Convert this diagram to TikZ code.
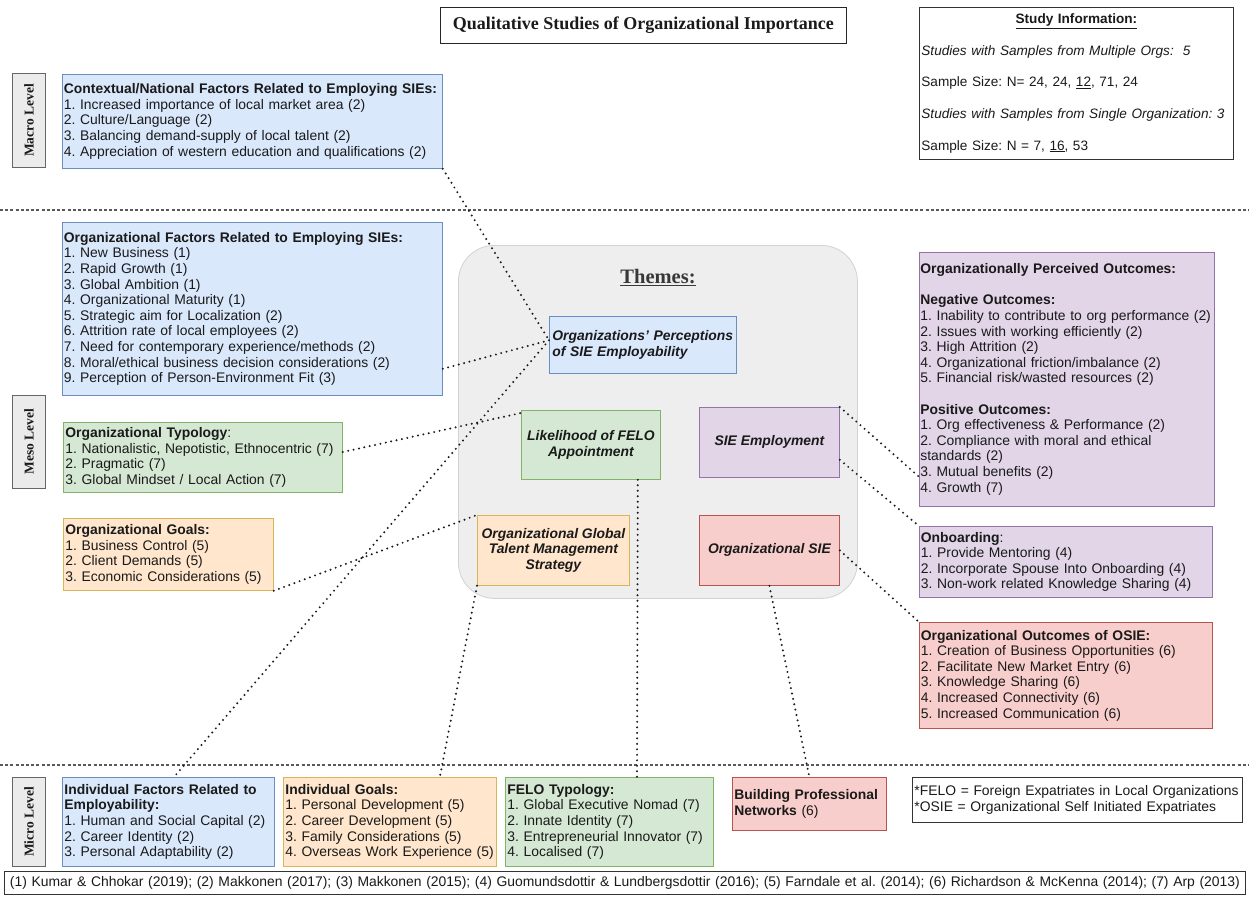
\documentclass[tikz,border=0pt]{standalone}
\usepackage{fontspec}
\setmainfont{Liberation Sans}
\newfontfamily\seriffam{Liberation Serif}
\usetikzlibrary{calc}
\frenchspacing

\definecolor{bluefill}{HTML}{DAE8FC}
\definecolor{bluedraw}{HTML}{6C8EBF}
\definecolor{greenfill}{HTML}{D5E8D4}
\definecolor{greendraw}{HTML}{82B366}
\definecolor{orangefill}{HTML}{FFE6CC}
\definecolor{orangedraw}{HTML}{D6B656}
\definecolor{purplefill}{HTML}{E1D5E7}
\definecolor{purpledraw}{HTML}{9673A6}
\definecolor{redfill}{HTML}{F8CECC}
\definecolor{reddraw}{HTML}{B85450}
\definecolor{levelfill}{HTML}{EBEBEB}
\definecolor{leveldraw}{HTML}{666666}
\definecolor{themefill}{HTML}{EEEEEE}
\definecolor{themedraw}{HTML}{D2D2D2}
\definecolor{ink}{HTML}{1A1A1A}

\newcommand{\bodyfont}{\fontsize{13.9}{15.6}\selectfont}

\tikzset{
  box/.style={draw, line width=0.8pt, anchor=north west, inner xsep=2pt, inner ysep=1pt,
    align=left, font=\bodyfont, text=ink},
  bluebox/.style={box, fill=bluefill, draw=bluedraw},
  greenbox/.style={box, fill=greenfill, draw=greendraw},
  orangebox/.style={box, fill=orangefill, draw=orangedraw},
  purplebox/.style={box, fill=purplefill, draw=purpledraw},
  redbox/.style={box, fill=redfill, draw=reddraw},
  plainbox/.style={box, fill=white, draw=black!80},
  themebox/.style={draw, line width=0.8pt, anchor=north west, inner sep=1pt, align=center,
    font=\bodyfont\bfseries\itshape, text=ink},
  levelbox/.style={draw=leveldraw, fill=levelfill, line width=0.8pt, anchor=north west,
    minimum width=33pt, inner sep=0pt},
  leveltext/.style={rotate=90, font=\seriffam\bfseries\fontsize{13.5}{13.5}\selectfont, text=ink},
  conn/.style={line width=2.2pt, dash pattern=on 0pt off 5.5pt, line cap=round, ink},
  sepline/.style={line width=1.1pt, dash pattern=on 3pt off 2.2pt, black!65},
}

\begin{document}
\begin{tikzpicture}[x=1pt,y=-1pt]
\useasboundingbox (0,0) rectangle (1249,896);
\fill[white] (0,0) rectangle (1249,896);

% level separators
\draw[sepline] (0,210) -- (1249,210);
\draw[sepline] (0,765) -- (1249,765);

% title and study info
\node[draw=black!85, line width=0.9pt, anchor=north west, minimum width=406pt, minimum height=36pt,
  inner sep=0pt, text=ink, font=\seriffam\bfseries\fontsize{18}{18}\selectfont] (title) at (440,7)
  {Qualitative Studies of Organizational Importance};

\node[plainbox, text width=310pt, minimum height=152pt, font=\fontsize{13.6}{15.6}\selectfont] (study) at (919,7)
  {\makebox[310pt]{\bfseries\underline{Study Information:}}\\[16pt]
   \textit{Studies with Samples from Multiple Orgs:\ \ 5}\\[16pt]
   Sample Size: N= 24, 24, \underline{12}, 71, 24\\[16pt]
   \textit{Studies with Samples from Single Organization: 3}\\[16pt]
   Sample Size: N = 7, \underline{16}, 53};

% macro level
\node[levelbox, minimum height=94pt] (macro) at (12,73) {};
\node[leveltext] (macrotxt) at (macro.center) {Macro Level};
\node[bluebox, text width=377pt, inner xsep=1.5pt, minimum height=94pt] (ctx) at (62,74)
  {\textbf{Contextual/National Factors Related to Employing SIEs:}\\
   1. Increased importance of local market area (2)\\
   2. Culture/Language (2)\\
   3. Balancing demand-supply of local talent (2)\\
   4. Appreciation of western education and qualifications (2)};

% meso level, left column
\node[bluebox, text width=377pt, inner xsep=1.5pt, minimum height=173pt] (orgf) at (62,222)
  {\textbf{Organizational Factors Related to Employing SIEs:}\\
   1. New Business (1)\\
   2. Rapid Growth (1)\\
   3. Global Ambition (1)\\
   4. Organizational Maturity (1)\\
   5. Strategic aim for Localization (2)\\
   6. Attrition rate of local employees (2)\\
   7. Need for contemporary experience/methods (2)\\
   8. Moral/ethical business decision considerations (2)\\
   9. Perception of Person-Environment Fit (3)};

\node[levelbox, minimum height=93pt] (meso) at (12,395) {};
\node[leveltext] (mesotxt) at (meso.center) {Meso Level};

\node[greenbox, text width=275pt, minimum height=70pt] (typ) at (63,422)
  {\textbf{Organizational Typology}:\\
   1. Nationalistic, Nepotistic, Ethnocentric (7)\\
   2. Pragmatic (7)\\
   3. Global Mindset / Local Action (7)};

\node[orangebox, text width=206pt, minimum height=72pt] (goalsorg) at (63,518)
  {\textbf{Organizational Goals:}\\
   1. Business Control (5)\\
   2. Client Demands (5)\\
   3. Economic Considerations (5)};

% themes
\node[draw=themedraw, fill=themefill, rounded corners=36pt, line width=0.8pt, anchor=north west,
  minimum width=399pt, minimum height=353pt, inner sep=0pt] (themes) at (458,245) {};
\node[font=\seriffam\bfseries\fontsize{20.5}{20.5}\selectfont, text=black!78] (themestitle) at (658,278)
  {\underline{Themes:}};

\node[themebox, fill=bluefill, draw=bluedraw, minimum width=187pt, minimum height=57pt,
  text width=181pt, align=left, inner xsep=3pt] (perc) at (549,316)
  {Organizations' Perceptions\\of SIE Employability};
\node[themebox, fill=greenfill, draw=greendraw, minimum width=139pt, minimum height=69pt] (felo) at (521,410)
  {Likelihood of FELO\\Appointment};
\node[themebox, fill=purplefill, draw=purpledraw, minimum width=140pt, minimum height=70pt] (sie) at (699,407)
  {SIE Employment};
\node[themebox, fill=orangefill, draw=orangedraw, minimum width=152pt, minimum height=70pt] (gts) at (477,515)
  {Organizational Global\\Talent Management\\Strategy};
\node[themebox, fill=redfill, draw=reddraw, minimum width=140pt, minimum height=70pt] (orgsie) at (699,515)
  {Organizational SIE};

% right column
\node[purplebox, text width=293pt, inner xsep=1pt, minimum height=254pt] (outc) at (919,252)
  {\textbf{Organizationally Perceived Outcomes:}\\[15.6pt]
   \textbf{Negative Outcomes:}\\
   1. Inability to contribute to org performance (2)\\
   2. Issues with working efficiently (2)\\
   3. High Attrition (2)\\
   4. Organizational friction/imbalance (2)\\
   5. Financial risk/wasted resources (2)\\[15.6pt]
   \textbf{Positive Outcomes:}\\
   1. Org effectiveness \& Performance (2)\\
   2. Compliance with moral and ethical\\
   standards (2)\\
   3. Mutual benefits (2)\\
   4. Growth (7)};

\node[purplebox, text width=290pt, inner xsep=1.5pt, minimum height=71pt] (onb) at (919,526)
  {\textbf{Onboarding}:\\
   1. Provide Mentoring (4)\\
   2. Incorporate Spouse Into Onboarding (4)\\
   3. Non-work related Knowledge Sharing (4)};

\node[redbox, text width=290pt, inner xsep=1.5pt, minimum height=106pt] (osie) at (919,622)
  {\textbf{Organizational Outcomes of OSIE:}\\
   1. Creation of Business Opportunities (6)\\
   2. Facilitate New Market Entry (6)\\
   3. Knowledge Sharing (6)\\
   4. Increased Connectivity (6)\\
   5. Increased Communication (6)};

% micro level
\node[levelbox, minimum height=89pt] (micro) at (12,777) {};
\node[leveltext] (microtxt) at (micro.center) {Micro Level};

\node[bluebox, text width=208pt, minimum height=89pt] (indf) at (62,777)
  {\textbf{Individual Factors Related to}\\
   \textbf{Employability:}\\
   1. Human and Social Capital (2)\\
   2. Career Identity (2)\\
   3. Personal Adaptability (2)};

\node[orangebox, text width=209pt, minimum height=89pt] (goals) at (283,777)
  {\textbf{Individual Goals:}\\
   1. Personal Development (5)\\
   2. Career Development (5)\\
   3. Family Considerations (5)\\
   4. Overseas Work Experience (5)};

\node[greenbox, text width=204pt, minimum height=89pt] (felotyp) at (505,777)
  {\textbf{FELO Typology:}\\
   1. Global Executive Nomad (7)\\
   2. Innate Identity (7)\\
   3. Entrepreneurial Innovator (7)\\
   4. Localised (7)};

\node[redbox, text width=150pt, minimum height=53pt] (bpn) at (732,777)
  {\textbf{Building Professional}\\
   \textbf{Networks} (6)};

\node[plainbox, text width=326pt, minimum height=45pt] (legend) at (912,777)
  {{*}FELO = Foreign Expatriates in Local Organizations\\
   {*}OSIE = Organizational Self Initiated Expatriates};

% references
\node[plainbox, text width=1237pt, align=center, minimum height=23pt, inner ysep=0pt] (refs) at (4,871)
  {(1) Kumar \& Chhokar (2019); (2) Makkonen (2017); (3) Makkonen (2015); (4) Guomundsdottir \& Lundbergsdottir (2016); (5) Farndale et al. (2014); (6) Richardson \& McKenna (2014); (7) Arp (2013)};

% connectors
\coordinate (percin) at ($(perc.north west)!0.42!(perc.south west)$);
\draw[conn] (ctx.south east) -- (percin);
\draw[conn] ($(orgf.south east)+(0,-27)$) -- (percin);
\draw[conn] (percin) -- ($(indf.north west)+(112,0)$);
\draw[conn] ($(typ.north east)+(0,30)$) -- ($(felo.north west)+(0,3)$);
\draw[conn] (goalsorg.south east) -- (gts.north west);
\draw[conn] (sie.north east) -- ($(outc.south west)+(0,-30)$);
\draw[conn] ($(sie.south east)+(0,-18)$) -- (onb.north west);
\draw[conn] (orgsie.east) -- (osie.north west);
\draw[conn] (orgsie.south) -- (bpn.north);
\draw[conn] ($(felo.south east)+(-23,0)$) -- ($(felotyp.north west)+(132,0)$);
\draw[conn] (gts.south west) -- ($(goals.north east)+(-57,0)$);
\end{tikzpicture}
\end{document}
